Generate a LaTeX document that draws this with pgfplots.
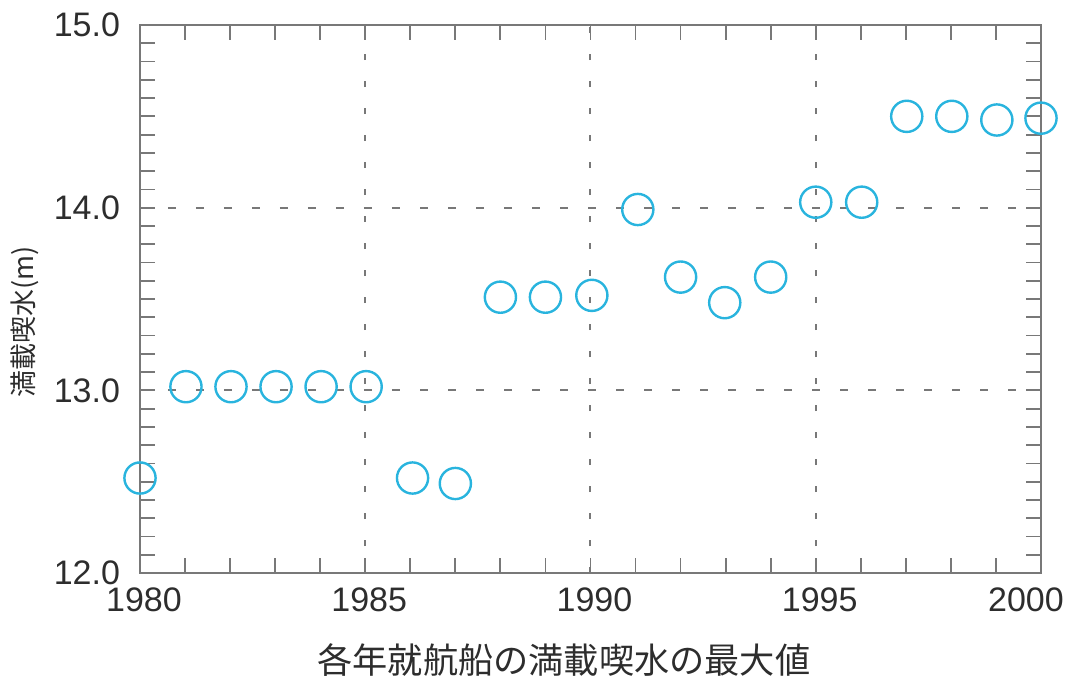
\documentclass[border=0pt]{standalone}
\usepackage{pgfplots}
\pgfplotsset{compat=1.18}
\usepackage{fontspec}
\setmainfont{Liberation Sans}
\newfontfamily\cjk{Noto Sans CJK JP}
\definecolor{mk}{RGB}{41,180,222}
\definecolor{ax}{RGB}{120,120,120}
\definecolor{tx}{RGB}{45,45,45}
\begin{document}
\begin{tikzpicture}
\path[use as bounding box] (-70pt,-52pt) rectangle (463.5pt,286.5pt);
\begin{axis}[
  at={(0,0)}, anchor=south west,
  scale only axis, width=450.5pt, height=274pt,
  xmin=1980, xmax=2000, ymin=12, ymax=15,
  xtick={1980,1985,1990,1995,2000},
  xticklabels={1980,1985,1990,1995,{\hspace*{-19pt}2000}},
  ytick={12,13,14,15},
  minor xtick={1981,1982,1983,1984,1986,1987,1988,1989,1991,1992,1993,1994,1996,1997,1998,1999},
  minor ytick={12.1,12.2,12.3,12.4,12.5,12.6,12.7,12.8,12.9,13.1,13.2,13.3,13.4,13.5,13.6,13.7,13.8,13.9,14.1,14.2,14.3,14.4,14.5,14.6,14.7,14.8,14.9},
  tick align=inside,
  major tick length=7.5pt, minor tick length=7.5pt,
  every tick/.style={ax, line width=0.9pt},
  axis line style={ax, line width=1pt},
  xmajorgrids, ymajorgrids,
  major x grid style={ax, line width=1pt, dash pattern=on 3pt off 10.5pt},
  major y grid style={ax, line width=1pt, dash pattern=on 4pt off 10pt},
  /pgf/number format/assume math mode=true,
  xticklabel style={font=\fontsize{17}{20}\selectfont, text=tx, yshift=-4pt, xshift=2pt},
  yticklabel style={font=\fontsize{17}{20}\selectfont, text=tx, xshift=-6.5pt,
    /pgf/number format/fixed, /pgf/number format/fixed zerofill, /pgf/number format/precision=1},
  xlabel={\cjk 各年就航船の満載喫水の最大値},
  xlabel style={at={(axis description cs:0.4705,0)}, anchor=center, yshift=-43.5pt,
    font=\fontsize{17.6}{20}\selectfont, text=tx},
  ylabel={\cjk 満載喫水(m)},
  ylabel style={at={(axis description cs:-0.1276,0.458)}, anchor=center,
    font=\fontsize{13.5}{16}\selectfont, text=tx},
  clip=false,
]
\addplot[only marks, mark=o, mark size=7.8pt, mark options={mk, line width=1.2pt}] coordinates {
(1980,12.52) (1981.02,13.02) (1982.02,13.02) (1983.02,13.02) (1984.02,13.02) (1985.02,13.02)
(1986.05,12.52) (1987.0,12.49) (1988.0,13.51) (1989.0,13.51) (1990.03,13.52)
(1991.05,13.99) (1992.0,13.62) (1992.98,13.48) (1994.0,13.62)
(1995.0,14.03) (1996.02,14.03) (1997.02,14.50) (1998.02,14.50) (1999.02,14.48) (2000.0,14.49)
};
\end{axis}
\end{tikzpicture}
\end{document}
